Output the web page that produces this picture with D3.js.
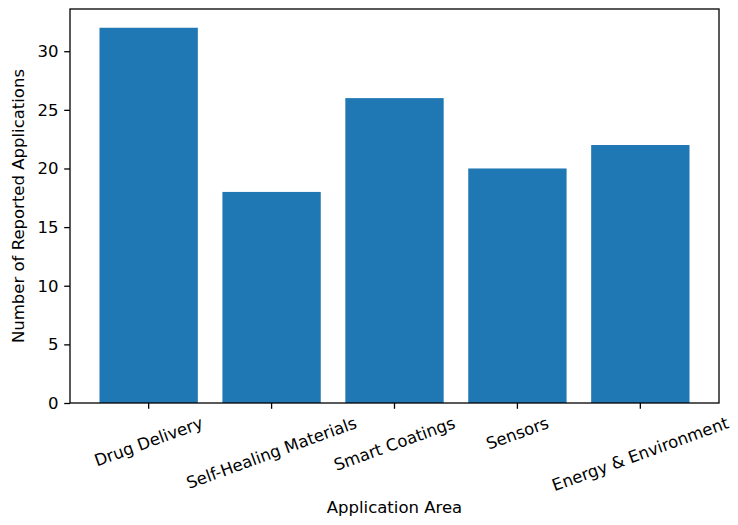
<!DOCTYPE html>
<html>
<head>
<meta charset="utf-8">
<script src="https://cdn.jsdelivr.net/npm/d3@7"></script>
<style>
  body { margin: 0; background: #fff; }
  text { font-family: "DejaVu Sans", sans-serif; fill: #000; }
</style>
</head>
<body>
<svg id="chart" width="738" height="525"></svg>
<script>
let categories = ["Drug Delivery", "Self-Healing Materials", "Smart Coatings", "Sensors", "Energy & Environment"]
let counts = [32, 18, 26, 20, 22]
let yTicks = [0, 5, 10, 15, 20, 25, 30]

let svg = d3.select("#chart")
let plotLeft = 70, plotRight = 719, plotTop = 9, plotBottom = 403
let fs = 16.5
let tk = 5.8

// matplotlib style: bars at integer positions, width 0.8, 5% margins
let x = d3.scaleLinear()
      .domain([-0.64, categories.length - 1 + 0.64])
      .range([plotLeft, plotRight])
let y = d3.scaleLinear()
      .domain([0, d3.max(counts) * 1.05])
      .range([plotBottom, plotTop])

svg.selectAll("rect.bar")
   .data(counts)
   .enter()
   .append("rect")
    .attr("class", "bar")
    .attr("x", (d, i) => x(i - 0.4))
    .attr("width", x(0.8) - x(0))
    .attr("y", d => y(d))
    .attr("height", d => y(0) - y(d))
    .attr("fill", "#1f77b4")

// y axis
let yAxis = svg.append("g")
    .attr("transform", `translate(${plotLeft},0)`)
    .call(d3.axisLeft(y).tickValues(yTicks).tickSize(tk).tickPadding(tk))
yAxis.select(".domain").remove()
yAxis.selectAll("text").style("font-size", fs + "px").attr("font-family", "DejaVu Sans")
yAxis.selectAll("line").attr("stroke", "#000").attr("stroke-width", 1.3)

// x ticks + rotated labels
let xg = svg.append("g")
categories.forEach((c, i) => {
  xg.append("line")
    .attr("x1", x(i)).attr("x2", x(i))
    .attr("y1", plotBottom).attr("y2", plotBottom + tk)
    .attr("stroke", "#000").attr("stroke-width", 1.3)
})

let maxBottom = 0
let ang = 20 * Math.PI / 180
categories.forEach((c, i) => {
  let t = xg.append("text")
    .attr("text-anchor", "middle")
    .attr("dominant-baseline", "central")
    .style("font-size", fs + "px")
    .text(c)
  let w = t.node().getComputedTextLength()
  let h = fs * 1.0
  let bh = w * Math.sin(ang) + h * Math.cos(ang)
  let cy = plotBottom + tk + tk + bh / 2
  t.attr("x", x(i)).attr("y", cy)
   .attr("transform", `rotate(-20,${x(i)},${cy})`)
  maxBottom = Math.max(maxBottom, cy + bh / 2)
})

// frame
svg.append("rect")
   .attr("x", plotLeft).attr("y", plotTop)
   .attr("width", plotRight - plotLeft).attr("height", plotBottom - plotTop)
   .attr("fill", "none").attr("stroke", "#000").attr("stroke-width", 1.3)

svg.append("text")
   .attr("x", (plotLeft + plotRight) / 2)
   .attr("y", maxBottom + 7)
   .attr("text-anchor", "middle")
   .attr("dominant-baseline", "hanging")
   .style("font-size", fs + "px")
   .text("Application Area")

svg.append("text")
   .attr("transform", `translate(24,${(plotTop + plotBottom) / 2}) rotate(-90)`)
   .attr("text-anchor", "middle")
   .style("font-size", fs + "px")
   .text("Number of Reported Applications")
</script>
</body>
</html>
